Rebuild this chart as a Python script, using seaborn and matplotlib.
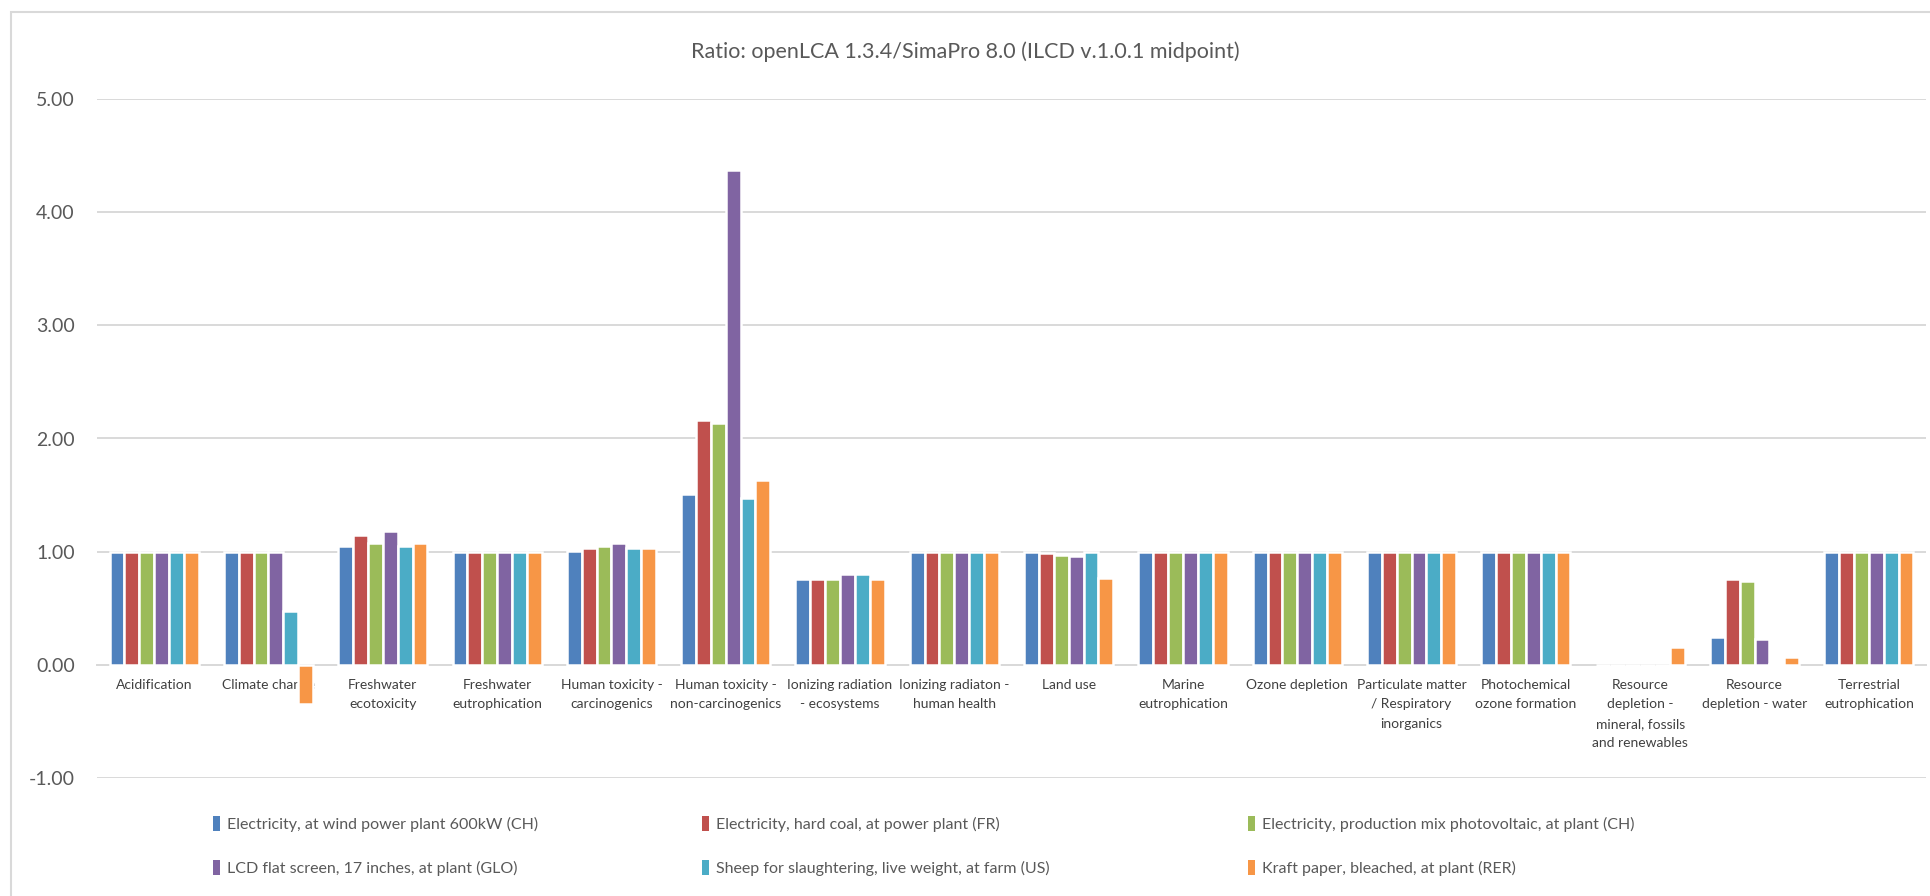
import numpy as np
import pandas as pd
import matplotlib
matplotlib.use("Agg")
import matplotlib.pyplot as plt
from matplotlib.patches import Patch, Rectangle
from matplotlib.ticker import FormatStrFormatter
import seaborn as sns

categories = [
    "Acidification",
    "Climate change",
    "Freshwater\necotoxicity",
    "Freshwater\neutrophication",
    "Human toxicity -\ncarcinogenics",
    "Human toxicity -\nnon-carcinogenics",
    "Ionizing radiation\n- ecosystems",
    "Ionizing radiaton -\nhuman health",
    "Land use",
    "Marine\neutrophication",
    "Ozone depletion",
    "Particulate matter\n/ Respiratory\ninorganics",
    "Photochemical\nozone formation",
    "Resource\ndepletion -\nmineral, fossils\nand renewables",
    "Resource\ndepletion - water",
    "Terrestrial\neutrophication",
]

series_names = [
    "Electricity, at wind power plant 600kW (CH)",
    "Electricity, hard coal, at power plant (FR)",
    "Electricity, production mix photovoltaic, at plant (CH)",
    "LCD flat screen, 17 inches, at plant (GLO)",
    "Sheep for slaughtering, live weight, at farm (US)",
    "Kraft paper, bleached, at plant (RER)",
]

wind_ch = [1.00, 1.00, 1.05, 1.00, 1.01, 1.51, 0.76, 1.00, 1.00, 1.00, 1.00, 1.00, 1.00, 0.00, 0.25, 1.00]
coal_fr = [1.00, 1.00, 1.15, 1.00, 1.03, 2.16, 0.76, 1.00, 0.99, 1.00, 1.00, 1.00, 1.00, 0.00, 0.76, 1.00]
pv_ch = [1.00, 1.00, 1.08, 1.00, 1.05, 2.14, 0.76, 1.00, 0.97, 1.00, 1.00, 1.00, 1.00, 0.00, 0.74, 1.00]
lcd_glo = [1.00, 1.00, 1.18, 1.00, 1.08, 4.37, 0.80, 1.00, 0.96, 1.00, 1.00, 1.00, 1.00, 0.00, 0.23, 1.00]
sheep_us = [1.00, 0.48, 1.05, 1.00, 1.03, 1.47, 0.80, 1.00, 1.00, 1.00, 1.00, 1.00, 1.00, 0.00, 0.01, 1.00]
kraft_rer = [1.00, -0.35, 1.08, 1.00, 1.03, 1.63, 0.76, 1.00, 0.77, 1.00, 1.00, 1.00, 1.00, 0.16, 0.07, 1.00]

colors = ["#4F81BD", "#C0504D", "#9BBB59", "#8064A2", "#4BACC6", "#F79646"]
y_ticks = [-1, 0, 1, 2, 3, 4, 5]
title = "Ratio: openLCA 1.3.4/SimaPro 8.0 (ILCD v.1.0.1 midpoint)"

all_series = [wind_ch, coal_fr, pv_ch, lcd_glo, sheep_us, kraft_rer]
rows = []
for name, vals in zip(series_names, all_series):
    for cat, v in zip(categories, vals):
        rows.append({"category": cat, "series": name, "value": v})
df = pd.DataFrame(rows)

sns.set_theme(style="white")
plt.rcParams["font.family"] = ["Lato", "DejaVu Sans"]

fig = plt.figure(figsize=(19.3, 8.96), dpi=100)
ax = fig.add_axes([97 / 1930, 1 - 778 / 896, (1926 - 97) / 1930, (778 - 99) / 896])

sns.barplot(data=df, x="category", y="value", hue="series", order=categories,
            hue_order=series_names, palette=colors, width=0.78, saturation=1,
            edgecolor="white", linewidth=1.8, ax=ax, legend=False)

ax.set_ylim(-1, 5)
ax.set_xlim(-0.5, len(categories) - 0.5)
ax.set_yticks(y_ticks)
ax.yaxis.set_major_formatter(FormatStrFormatter("%.2f"))
ax.grid(axis="y", color="#D9D9D9", linewidth=1.4)
ax.grid(axis="x", visible=False)
ax.set_axisbelow(True)
for s in ["top", "right", "left"]:
    ax.spines[s].set_visible(False)
ax.spines["bottom"].set_position(("data", 0))
ax.spines["bottom"].set_color("#D9D9D9")
ax.spines["bottom"].set_linewidth(1.4)
ax.spines["bottom"].set_zorder(0.5)
ax.tick_params(axis="y", length=0, pad=16, labelsize=14, labelcolor="#595959")
ax.tick_params(axis="x", length=0, pad=10, labelsize=10, labelcolor="#404040")
for lab in ax.get_xticklabels():
    lab.set_linespacing(1.75)
    lab.set_verticalalignment("top")
ax.set_xlabel("")
ax.set_ylabel("")

fig.text(0.5, 1 - 52 / 896, title, ha="center", va="center", fontsize=15.5, color="#595959")

handles = [Patch(facecolor=c, edgecolor="none") for c in colors]
col_x = [205, 694, 1240]
for j, x0 in enumerate(col_x):
    idx = [j, j + 3]
    leg = fig.legend([handles[i] for i in idx], [series_names[i] for i in idx],
                     ncol=1, loc="upper left", bbox_to_anchor=(x0 / 1930, 1 - 808 / 896),
                     frameon=False, fontsize=11.5, labelcolor="#595959", borderpad=0,
                     handlelength=0.45, handleheight=1.05, handletextpad=0.4,
                     labelspacing=1.75)

fig.patches.append(Rectangle((11 / 1930, -0.05), 1.2, 1 - 12 / 896 + 0.05,
                             transform=fig.transFigure, fill=False,
                             edgecolor="#D9D9D9", linewidth=1.5, zorder=-1))

fig.savefig("out.png", dpi=100, facecolor="white")
